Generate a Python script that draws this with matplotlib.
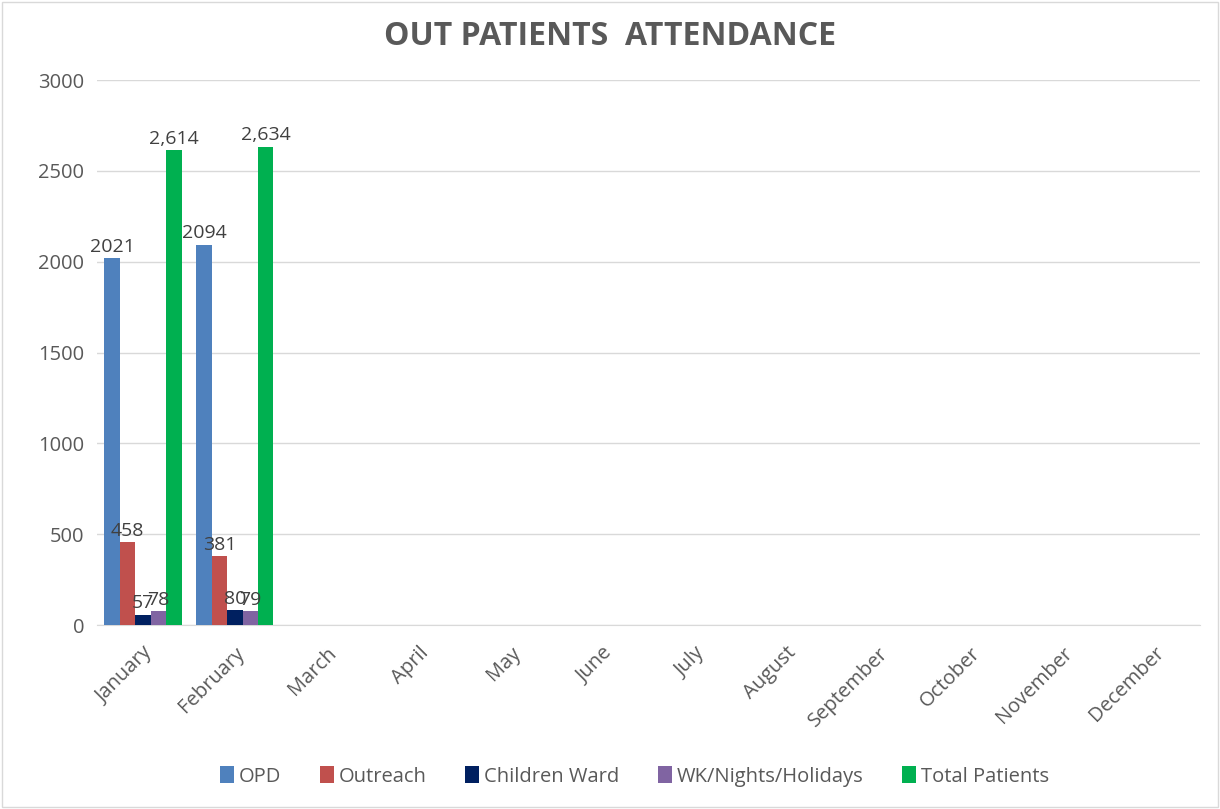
import matplotlib
matplotlib.use("Agg")
import matplotlib.pyplot as plt
import numpy as np

months = ["January", "February", "March", "April", "May", "June", "July",
          "August", "September", "October", "November", "December"]
series_names = ["OPD", "Outreach", "Children Ward", "WK/Nights/Holidays", "Total Patients"]
opd = [2021, 2094]
outreach = [458, 381]
children_ward = [57, 80]
wk_nights = [78, 79]
total_patients = [2614, 2634]
colors = ["#4f81bd", "#c0504d", "#002060", "#8064a2", "#00b050"]
label_fmt = ["{:d}", "{:d}", "{:d}", "{:d}", "{:,d}"]

plt.rcParams['font.family'] = ['Open Sans', 'DejaVu Sans']

fig = plt.figure(figsize=(12.2, 8.09), dpi=100)
fig.patches.append(plt.Rectangle((0.002, 0.002), 0.996, 0.996, transform=fig.transFigure,
                                 fill=False, edgecolor="#d9d9d9", linewidth=1))
ax = fig.add_axes([0.0795, 0.2274, 0.904, 0.6737])

data = [opd, outreach, children_ward, wk_nights, total_patients]
n = len(series_names)
group_w = 0.84
bw = group_w / n
x = np.arange(len(months))
for i, (name, vals, c) in enumerate(zip(series_names, data, colors)):
    xs = x[:len(vals)] - group_w / 2 + bw * (i + 0.5)
    ax.bar(xs, vals, width=bw, color=c, label=name, zorder=3)
    for xi, v in zip(xs, vals):
        ax.text(xi, v + 12, label_fmt[i].format(v), ha="center", va="bottom",
                fontsize=14, color="#404040", zorder=4)

ax.set_xlim(-0.5, len(months) - 0.5)
ax.set_ylim(0, 3000)
ax.set_yticks(np.arange(0, 3001, 500))
ax.yaxis.grid(True, color="#d9d9d9", linewidth=1, zorder=0)
ax.set_axisbelow(True)
for s in ["top", "right", "left"]:
    ax.spines[s].set_visible(False)
ax.spines["bottom"].set_color("#d9d9d9")
ax.tick_params(axis="y", length=0, labelsize=14.5, labelcolor="#595959", pad=9)
ax.tick_params(axis="x", length=0, labelsize=14.5, labelcolor="#595959", pad=13)
ax.set_xticks(x)
ax.set_xticklabels(months, rotation=45, ha="right", rotation_mode="anchor")

fig.text(0.5, 0.955, "OUT PATIENTS  ATTENDANCE", ha="center", va="center",
         fontsize=23, fontweight="bold", color="#595959")

leg = fig.legend(loc="center", bbox_to_anchor=(0.52, 0.04), ncol=5, frameon=False,
                 fontsize=14.5, handlelength=0.7, handleheight=0.9, handletextpad=0.25,
                 columnspacing=1.9)
for t in leg.get_texts():
    t.set_color("#595959")

fig.savefig("out.png", dpi=100)
